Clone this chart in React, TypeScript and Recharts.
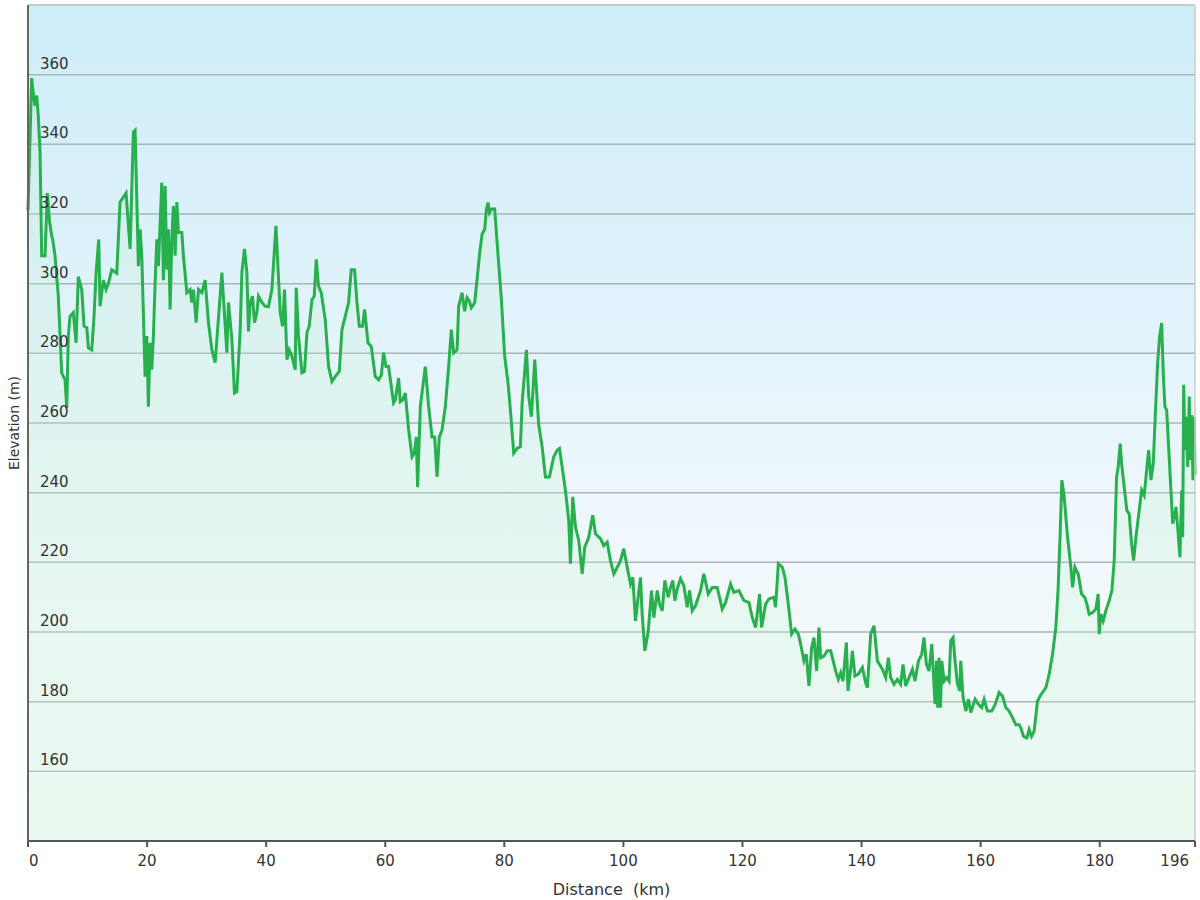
import React from 'react'
import { AreaChart, Area, XAxis, YAxis, CartesianGrid, ReferenceLine, Label } from 'recharts'

// distance along the route (km)
const distanceKm = [
  0, 0.62, 0.89, 1.18, 1.46, 1.73, 2.02, 2.3, 2.86, 3.24,
  3.61, 3.98, 4.15, 4.54, 5.09, 5.66, 6.22, 6.51, 6.77, 7.06,
  7.61, 8.07, 8.45, 9.03, 9.41, 9.87, 10.14, 10.71, 11.09, 11.43,
  11.88, 12.1, 12.66, 13.11, 13.5, 14.07, 14.91, 15.46, 16.47, 17.15,
  17.7, 17.99, 18.37, 18.54, 18.83, 19.11, 19.67, 19.95, 20.22, 20.51,
  20.79, 21.06, 21.35, 21.63, 21.9, 22.47, 22.74, 23.03, 23.31, 23.58,
  23.87, 24.15, 24.42, 24.71, 25, 25.26, 25.84, 26.1, 26.68, 27.23,
  27.52, 27.79, 28.24, 28.63, 29.2, 29.75, 30.31, 30.88, 31.43, 32.56,
  33.4, 33.67, 34.24, 34.68, 35.08, 35.64, 35.92, 36.36, 36.76, 37.03,
  37.32, 37.7, 38.04, 38.44, 38.71, 39.28, 39.84, 40.39, 40.96, 41.64,
  42.36, 42.75, 43.08, 43.49, 43.87, 44.33, 44.88, 45.05, 45.43, 46.01,
  46.44, 46.85, 47.23, 47.69, 48.07, 48.41, 48.8, 49.25, 49.92, 50.48,
  51.05, 51.6, 52.28, 52.73, 53.28, 53.84, 54.29, 54.85, 55.25, 55.64,
  56.19, 56.53, 57.1, 57.65, 58.33, 58.88, 59.34, 59.72, 60.13, 60.56,
  61.4, 61.69, 62.24, 62.53, 62.92, 63.37, 63.93, 64.5, 64.88, 65.22,
  65.44, 65.89, 66.73, 67.29, 67.86, 68.3, 68.7, 69.08, 69.54, 70.09,
  70.65, 71.1, 71.49, 72.06, 72.33, 72.9, 73.34, 73.74, 74.13, 74.46,
  75.02, 75.42, 75.81, 76.26, 76.7, 76.99, 77.27, 77.49, 77.83, 78.38,
  78.95, 79.51, 80.06, 80.63, 81.02, 81.58, 82.15, 82.7, 82.99, 83.71,
  84.1, 84.55, 85.11, 85.51, 85.78, 86.35, 86.9, 87.57, 88.3, 88.87,
  89.26, 89.71, 90.26, 90.82, 91.1, 91.49, 91.95, 92.5, 93.07, 93.51,
  94.18, 94.85, 95.31, 96.15, 96.7, 97.27, 97.83, 98.39, 98.67, 99.51,
  100.06, 100.64, 101.19, 101.58, 102.03, 102.48, 102.87, 103.16, 103.6, 104.17,
  104.72, 105.11, 105.68, 106.06, 106.52, 106.96, 107.53, 107.91, 108.3, 108.64,
  109.04, 109.59, 110.15, 110.72, 111.11, 111.56, 112.12, 112.96, 113.51, 114.25,
  114.92, 115.76, 116.6, 117.16, 118, 118.55, 119.4, 120.24, 121.08, 121.65,
  122.2, 122.87, 123.21, 123.88, 124.44, 125.28, 125.56, 126.02, 126.69, 127.13,
  127.7, 128.25, 128.81, 129.38, 129.77, 130.32, 130.72, 131.16, 131.61, 132,
  132.45, 132.84, 133.13, 133.68, 134.25, 134.81, 135.65, 136.1, 136.49, 136.88,
  137.45, 137.72, 138.17, 138.46, 138.89, 139.46, 140.14, 140.69, 140.98, 141.53,
  142.09, 142.66, 143.5, 144.05, 144.51, 144.89, 145.45, 146.02, 146.57, 146.96,
  147.41, 147.97, 148.54, 148.98, 149.55, 150.1, 150.49, 150.89, 151.33, 151.79,
  152.34, 152.58, 152.79, 153.01, 153.25, 153.47, 153.86, 154.26, 154.69, 154.98,
  155.37, 155.7, 156.11, 156.49, 156.66, 157.05, 157.5, 157.95, 158.34, 159.07,
  159.63, 160.19, 160.58, 161.15, 161.87, 162.43, 163.1, 163.67, 164.22, 164.78,
  165.35, 165.9, 166.46, 166.75, 167.2, 167.75, 168.14, 168.54, 168.98, 169.55,
  170.11, 170.95, 171.51, 172.07, 172.63, 173.02, 173.35, 173.64, 174.03, 174.6,
  175.15, 175.44, 175.82, 176.38, 176.95, 177.5, 177.84, 178.23, 178.8, 179.35,
  179.74, 179.91, 180.19, 180.58, 181.03, 181.59, 182.04, 182.43, 182.83, 183.1,
  183.44, 183.67, 184.11, 184.56, 184.95, 185.35, 185.69, 186.08, 186.63, 187.04,
  187.47, 187.88, 188.21, 188.6, 188.99, 189.32, 189.72, 190.06, 190.4, 190.67,
  190.95, 191.24, 191.57, 191.96, 192.25, 192.52, 192.8, 193.09, 193.47, 193.76,
  193.93, 194.1, 194.32, 194.53, 194.77, 195.04, 195.2, 195.44, 195.66, 195.88,
  196,
]

// elevation (m) at each distance above
const elevationM = [
  321, 359, 354.5, 351, 354, 348, 338, 308, 308, 326,
  318, 313.7, 312.7, 308, 296.4, 274.4, 272.4, 264.3, 285, 290.6,
  291.7, 283, 302, 298.3, 287.8, 287.4, 281.6, 281, 290.6, 303,
  312.7, 293.5, 301, 298.3, 300, 304, 303, 323.4, 326, 310,
  343.5, 344, 317.6, 305, 315.6, 308, 273.3, 285, 264.7, 283,
  275.3, 285, 300.3, 312.7, 305, 329, 301, 328, 304, 315.6,
  292.6, 312.7, 322.3, 308, 323.4, 314.7, 314.7, 308, 297.4, 298.3,
  294.6, 298.3, 288.8, 298.3, 297.4, 301, 288.8, 281, 277.3, 303.2,
  280.2, 294.6, 284, 268.6, 269, 286.8, 303.2, 310, 303.2, 286.3,
  294.6, 296.4, 288.8, 291.7, 296.4, 294.6, 293.5, 293.4, 298.3, 316.6,
  291.7, 287.8, 298.3, 278.2, 281, 279.1, 275.3, 298.8, 285, 274.4,
  274.8, 286, 287.8, 295.4, 296.4, 307, 299.3, 297.4, 289.7, 276.2,
  271.9, 273.3, 274.8, 286.8, 290.6, 294.6, 304, 304, 294.6, 287.8,
  287.8, 292.6, 283, 282, 273.3, 272.4, 273.8, 280.2, 276.2, 276.2,
  265.8, 266.6, 272.9, 266.1, 266.6, 268.6, 258, 250.3, 251.3, 256,
  241.6, 264.7, 276.2, 264.7, 256, 256, 244.5, 256, 258, 264.7,
  276.2, 286.8, 280.1, 281, 293.5, 297.4, 292.1, 296, 295, 293.1,
  294.5, 301.2, 308, 314.2, 315.6, 321.4, 323.3, 320.4, 321.4, 321.4,
  308, 295.4, 279.1, 271.4, 263.7, 251.3, 252.7, 253.2, 265.7, 281,
  267.6, 261.8, 278.2, 266.6, 259.4, 253.2, 244.5, 244.5, 250.3, 252.2,
  252.7, 247.4, 240.7, 232, 219.6, 238.8, 230.1, 226.3, 216.7, 224.4,
  227.2, 233.5, 228.2, 226.8, 224.8, 225.8, 220.5, 216.7, 217.6, 220.5,
  223.9, 218.6, 213.8, 215.7, 203.2, 210, 215.7, 204.9, 194.6, 200.2,
  211.9, 204.1, 211.9, 208, 206.1, 214.8, 210, 212.8, 214.8, 209,
  212.4, 215.3, 213.3, 207.1, 211.9, 206.1, 207.6, 211.9, 216.7, 210.9,
  212.8, 212.8, 206.6, 208.5, 213.8, 211.4, 211.9, 209, 208.5, 204.1,
  201.3, 210.9, 201.3, 208, 209.5, 210, 207.1, 219.6, 218.6, 215.7,
  208, 199.4, 200.8, 199.4, 196.5, 191.7, 193.6, 184.5, 195.5, 198.4,
  188.8, 201.3, 192.6, 193.1, 194.6, 194.6, 188.8, 186.4, 188.3, 185.9,
  197, 183.1, 189.3, 194.6, 187.4, 187.9, 189.8, 185.4, 184, 199.4,
  201.8, 191.7, 189.3, 186.9, 192.6, 186.9, 185, 186.4, 185, 190.7,
  184.5, 186.9, 189.3, 185.9, 191.7, 193.6, 198.4, 190.7, 188.8, 196.5,
  179.3, 191.7, 178.3, 192.6, 178.3, 191.7, 185.9, 186.9, 185.9, 197.5,
  198.4, 191.7, 185, 183.1, 191.7, 181.2, 177.3, 180.7, 176.9, 180.7,
  179.2, 178.3, 180.7, 177.3, 177.3, 179.2, 182.6, 181.6, 178.3, 177.3,
  175.4, 173.4, 173.4, 172.5, 170, 169.6, 172, 170, 171.5, 180.2,
  182, 184, 187.9, 193.6, 201.3, 212.8, 228.2, 243.6, 238.8, 227.2,
  218.6, 212.8, 218.6, 216.7, 210.9, 209.9, 208, 205.1, 205.6, 206.6,
  210.9, 199.4, 205.1, 203.2, 206.1, 209, 211.9, 220.5, 244.5, 247.4,
  254.1, 248.4, 241.6, 234.9, 233.9, 225.3, 220.5, 227.2, 234.9, 240.7,
  239.2, 246.5, 252.2, 243.6, 248.4, 261.8, 277.2, 284.9, 288.7, 274.3,
  264.7, 263.7, 253.2, 240.7, 231.1, 233, 235.9, 230.1, 221.5, 240.7,
  227.2, 271, 252.2, 261.8, 247.4, 267.6, 249.3, 262.3, 243.6, 261.8,
  245,
]

const distanceTicks = [0, 20, 40, 60, 80, 100, 120, 140, 160, 180, 196]
const elevationTicks = [160, 180, 200, 220, 240, 260, 280, 300, 320, 340, 360]

const FONT = '"DejaVu Sans", Verdana, sans-serif'

const profile = distanceKm.map((km, i) => ({ km, ele: elevationM[i] }))

const YTick = (props: any) => {
  const { y, payload } = props
  return (
    <text x={40} y={y - 6} fill="#333" fontSize={15} fontFamily={FONT}>
      {payload.value}
    </text>
  )
}

const XTick = (props: any) => {
  const { x, y, payload } = props
  let anchor = 'middle'
  let tx = x
  if (payload.value === 0) { anchor = 'start'; tx = x + 1 }
  if (payload.value === 196) { anchor = 'end'; tx = x - 6 }
  return (
    <text x={tx} y={y + 17} textAnchor={anchor} fill="#333" fontSize={15} fontFamily={FONT}>
      {payload.value}
    </text>
  )
}

const renderYLabel = (props: any) => {
  const vb = props.viewBox
  const cy = vb.y + vb.height / 2
  return (
    <text x={14} y={cy} transform={`rotate(-90 14 ${cy})`} textAnchor="middle" dominantBaseline="central" fill="#333" fontSize={14} fontFamily={FONT}>
      Elevation (m)
    </text>
  )
}

const renderXLabel = (props: any) => {
  const vb = props.viewBox
  return (
    <text x={vb.x + vb.width / 2} y={vb.y + 54} textAnchor="middle" fill="#333" fontSize={16} fontFamily={FONT} style={{ whiteSpace: 'pre' }}>
      {'Distance  (km)'}
    </text>
  )
}

export default function App() {
  return (
    <div style={{ position: 'absolute', left: 0, top: 0, width: 1200, height: 900, background: '#fff' }}>
      <AreaChart width={1200} height={900} data={profile} margin={{ top: 5, right: 5, left: 27, bottom: 9 }}>
        <defs>
          <linearGradient id="plotBg" x1="0" y1="0" x2="0" y2="1">
            <stop offset="0%" stopColor="#cdedf9" />
            <stop offset="65%" stopColor="#f0f8fc" />
            <stop offset="100%" stopColor="#f4fbf8" />
          </linearGradient>
          <linearGradient id="areaFill" x1="0" y1="0" x2="0" y2="1">
            <stop offset="0%" stopColor="#b8ecc8" stopOpacity={0.35} />
            <stop offset="100%" stopColor="#d2f5dc" stopOpacity={0.5} />
          </linearGradient>
        </defs>
        <CartesianGrid vertical={false} stroke="#a9b3b8" strokeWidth={1.5} fill="url(#plotBg)" />
        <ReferenceLine y={380} stroke="#c9cccd" strokeWidth={1.5} />
        <ReferenceLine x={196} stroke="#c9cccd" strokeWidth={1.5} />
        <Area
          type="linear"
          dataKey="ele"
          stroke="#27b04d"
          strokeWidth={3}
          fill="url(#areaFill)"
          dot={false}
          activeDot={false}
          isAnimationActive={false}
        />
        <XAxis
          type="number"
          dataKey="km"
          domain={[0, 196]}
          ticks={distanceTicks}
          interval={0}
          height={50}
          tickSize={6}
          axisLine={{ stroke: '#555', strokeWidth: 2 }}
          tickLine={{ stroke: '#555', strokeWidth: 2 }}
          tick={<XTick />}
        >
          <Label content={renderXLabel} />
        </XAxis>
        <YAxis
          type="number"
          domain={[140, 380]}
          ticks={elevationTicks}
          interval={0}
          width={1}
          tickLine={false}
          axisLine={{ stroke: '#666', strokeWidth: 2 }}
          tick={<YTick />}
        >
          <Label content={renderYLabel} />
        </YAxis>
      </AreaChart>
    </div>
  )
}
